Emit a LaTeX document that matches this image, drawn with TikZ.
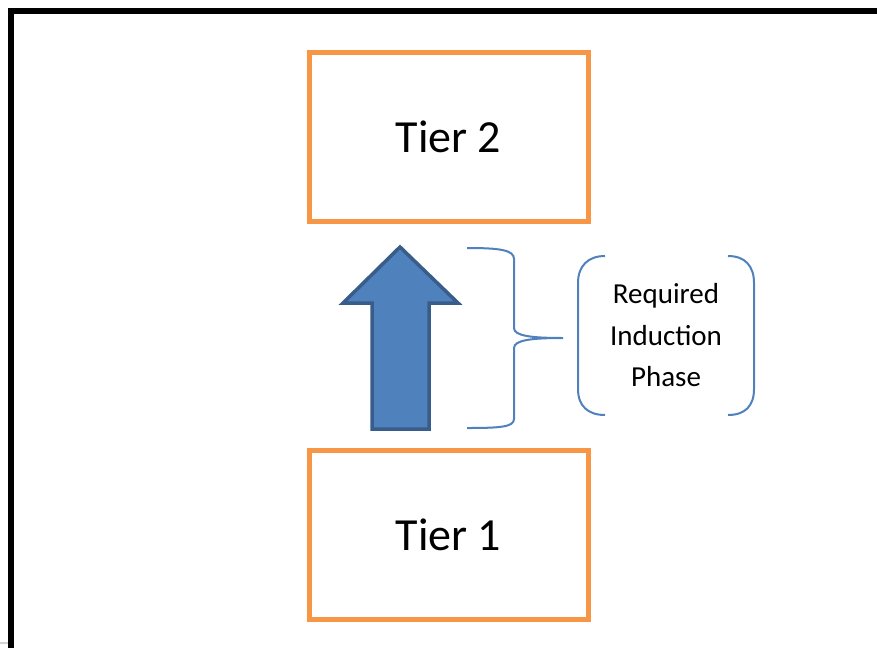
\documentclass[tikz,border=0pt]{standalone}
\usepackage{fontspec}
\setmainfont{Carlito}
\definecolor{tierorange}{HTML}{F79646}
\definecolor{arrowfill}{HTML}{4F81BD}
\definecolor{arrowline}{HTML}{385D8A}
\definecolor{bracecol}{HTML}{4F81BD}
\begin{document}
\begin{tikzpicture}[x=1pt,y=-1pt,
  tierbox/.style={draw=tierorange,line width=5pt,minimum width=279pt,minimum height=169pt,inner sep=0pt,font=\fontsize{46}{52}\selectfont},
  bracepath/.style={draw=bracecol,line width=2pt},
  labeltext/.style={align=center,font=\fontsize{29}{41.5}\selectfont}]
\useasboundingbox (0,0) rectangle (877,648);
\fill[white] (0,0) rectangle (877,648);
% outer frame (top and left)
\draw[line width=6pt] (877,10.5) -- (11,10.5) -- (11,648);
\draw[gray!35,line width=1.5pt] (0,643) -- (8,643);
% tiers
\node[tierbox] (tier2) at (448.5,136.5) {Tier 2};
\node[tierbox] (tier1) at (448.5,534.5) {Tier 1};
% block arrow
\draw[fill=arrowfill,draw=arrowline,line width=3.5pt,line join=miter]
  (400,247) -- (458,303) -- (429,303) -- (429,429) -- (372,429) -- (372,303) -- (343,303) -- cycle;
% curly brace
\coordinate (bracetip) at (563,338);
\draw[bracepath] (467,248) .. controls (500,248) and (514,250) .. (514,259) -- (514,328)
  .. controls (514,336) and (532,338) .. (bracetip)
  .. controls (532,338) and (514,340) .. (514,348) -- (514,419)
  .. controls (514,427) and (500,428) .. (467,428);
% bracket pair with label
\node[labeltext] (phase) at (666,335.5) {Required\\Induction\\Phase};
\draw[bracepath] (605,256) .. controls (588,256) and (578,266) .. (578,283) -- (578,389)
  .. controls (578,406) and (588,415) .. (605,415);
\draw[bracepath] (728,256) .. controls (745,256) and (754,266) .. (754,283) -- (754,389)
  .. controls (754,406) and (745,415) .. (728,415);
\end{tikzpicture}
\end{document}
